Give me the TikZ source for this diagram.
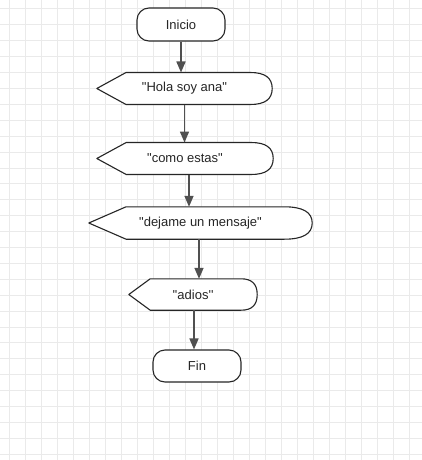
\documentclass[tikz,border=0pt]{standalone}
\usepackage{fontspec}
\setmainfont{Liberation Sans}[Ligatures=TeXOff]
\usetikzlibrary{arrows.meta,calc}
\definecolor{gridgray}{HTML}{EAEAEA}
\definecolor{linegray}{HTML}{505050}
\pgfdeclarelayer{grid}
\pgfdeclarelayer{shape}
\pgfsetlayers{grid,shape,main}
\tikzset{
  gridline/.style={gridgray,line width=1pt},
  term/.style={draw=black!85,fill=white,line width=1.1pt,rounded corners=12pt,
    inner sep=0pt,text=black!85,font=\fontsize{13}{15}\selectfont},
  disp/.style={inner sep=0pt,text=black!85,font=\fontsize{13}{15}\selectfont},
  displine/.style={draw=black!85,fill=white,line width=1.1pt,line join=round},
  flecha/.style={linegray,line width=1.6pt,-{Triangle[length=11pt,width=9pt]}}
}
% display shape around a node: pointed left end, rounded right end
\newcommand{\dispshape}[1]{%
  \draw[displine] let \p1=(#1.west), \p2=(#1.east), \p3=(#1.north), \p4=(#1.south),
    \n1={(\x2-\x1)/6}, \n2={(\x2-\x1)/8}, \n3={(\y3-\y1)*2/3} in
    (\p1) -- (\x1+\n1,\y3) -- (\x2-\n2,\y3)
    .. controls (\x2-\n2/3,\y3) and (\x2,\y1+\n3) .. (\p2)
    .. controls (\x2,\y1-\n3) and (\x2-\n2/3,\y4) .. (\x2-\n2,\y4)
    -- (\x1+\n1,\y4) -- cycle;}
\begin{document}
\begin{tikzpicture}[x=1pt,y=-1pt]
\useasboundingbox (0,0) rectangle (422,460);
\begin{pgfonlayer}{grid}
  \fill[white] (0,0) rectangle (422,460);
  \foreach \gx in {9,25,...,409}
    \draw[gridline] (\gx,0) -- (\gx,460);
  \foreach \k in {0,...,28}
    \draw[gridline] (0,{9+15.9*\k}) -- (422,{9+15.9*\k});
\end{pgfonlayer}
% nodes
\node[term,minimum width=88pt,minimum height=33pt] (ini) at (181,24.5) {Inicio};
\node[disp,minimum width=175pt,minimum height=31.6pt] (hola) at (184.5,88.5) {"Hola soy ana"};
\node[disp,minimum width=176pt,minimum height=31.6pt] (como) at (185,158.5) {"como estas"};
\node[disp,minimum width=223pt,minimum height=32pt] (dej) at (200.5,223) {"dejame un mensaje"};
\node[disp,minimum width=128pt,minimum height=31pt] (adios) at (193,294.5) {''adios''};
\node[term,minimum width=88pt,minimum height=32pt] (fin) at (197,366) {Fin};
\begin{pgfonlayer}{shape}
  \dispshape{hola}
  \dispshape{como}
  \dispshape{dej}
  \dispshape{adios}
\end{pgfonlayer}
% connectors
\draw[flecha] (ini.south) -- (ini.south |- hola.north);
\draw[flecha] (hola.south) -- (hola.south |- como.north);
\draw[flecha] ([xshift=4pt]como.south) -- ([xshift=4pt]como.south |- dej.north);
\draw[flecha] ([xshift=-1.5pt]dej.south) -- ([xshift=-1.5pt]dej.south |- adios.north);
\draw[flecha] ([xshift=1pt]adios.south) -- ([xshift=1pt]adios.south |- fin.north);
\end{tikzpicture}
\end{document}
